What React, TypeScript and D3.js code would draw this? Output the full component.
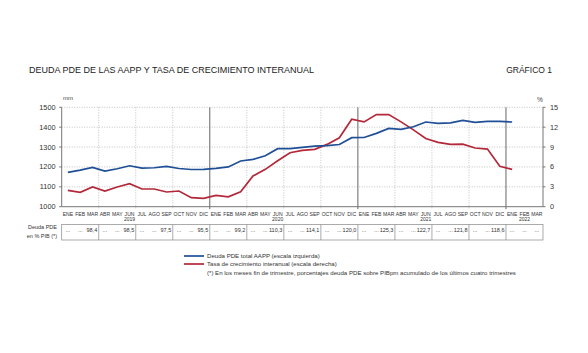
import React, { useEffect, useRef } from 'react';
import * as d3 from 'd3';

// month labels, ENE 2019 .. MAR 2022
const monthNames = ['ENE', 'FEB', 'MAR', 'ABR', 'MAY', 'JUN', 'JUL', 'AGO', 'SEP', 'OCT', 'NOV', 'DIC'];
const years = ['2019', '2020', '2021', '2022'];
const yearLabelMonth = [5, 5, 5, 1];
const nMonths = 39;

// Deuda PDE total AAPP (mm)
const debt = [
  1173, 1184, 1198, 1179, 1191, 1206, 1194, 1196, 1203, 1192, 1187, 1188,
  1193, 1200, 1230, 1238, 1256, 1292, 1292, 1298, 1305, 1307, 1313, 1347,
  1348, 1369, 1394, 1389, 1402, 1426, 1419, 1422, 1434, 1424, 1429, 1429,
  1426,
];

// Tasa de crecimiento interanual (%)
const growth = [
  2.47, 2.17, 2.97, 2.37, 2.97, 3.47, 2.67, 2.67, 2.22, 2.37, 1.36, 1.27,
  1.72, 1.5, 2.26, 4.63, 5.64, 6.94, 8.15, 8.5, 8.66, 9.4, 10.4, 13.2,
  12.8, 13.9, 13.9, 12.8, 11.6, 10.3, 9.7, 9.4, 9.45, 8.86, 8.7, 6.1,
  5.64,
];

// Deuda PDE en % PIB, one per quarter
const ratioPIB = ['98,4', '98,5', '97,5', '95,5', '99,2', '110,3', '114,1', '120,0', '125,3', '122,7', '121,8', '118,6', ''];

const leftTicks = [1000, 1100, 1200, 1300, 1400, 1500];
const rightTicks = [0, 3, 6, 9, 12, 15];

const BLUE = '#1f4f96';
const RED = '#b3283a';
const FONT = '"Liberation Sans", Arial, sans-serif';

const Chart = () => {
  const ref = useRef<SVGSVGElement>(null);

  useEffect(() => {
    const svg = d3.select(ref.current);
    svg.selectAll('*').remove();

    const left = 61.7, right = 543, top = 107.3, bottom = 206.7;

    const x = d3.scaleBand<number>().domain(d3.range(nMonths)).range([left, right]).padding(0);
    const cx = (i: number) => (x(i) as number) + x.bandwidth() / 2;
    const edge = (i: number) => left + i * x.bandwidth();
    const yL = d3.scaleLinear().domain([1000, 1500]).range([bottom, top]);
    const yR = d3.scaleLinear().domain([0, 15]).range([bottom, top]);

    // titles
    svg.append('text').attr('x', 29).attr('y', 73).attr('font-size', 9).attr('fill', '#222')
      .attr('font-family', FONT).text('DEUDA PDE DE LAS AAPP Y TASA DE CRECIMIENTO INTERANUAL');
    svg.append('text').attr('x', 552).attr('y', 73).attr('font-size', 8.5).attr('fill', '#222')
      .attr('text-anchor', 'end').attr('font-family', FONT).text('GRÁFICO 1');

    // grid
    const g = svg.append('g');
    leftTicks.slice(1).forEach(t => {
      g.append('line').attr('x1', left).attr('x2', right).attr('y1', yL(t)).attr('y2', yL(t))
        .attr('stroke', '#aaa').attr('stroke-width', 0.7).attr('stroke-dasharray', '1,1.5');
    });
    for (let i = 3; i < nMonths; i += 3) {
      const isYear = i % 12 === 0;
      g.append('line').attr('x1', edge(i)).attr('x2', edge(i)).attr('y1', top).attr('y2', bottom + 2.5)
        .attr('stroke', isYear ? '#666' : '#aaa').attr('stroke-width', isYear ? 1 : 0.7)
        .attr('stroke-dasharray', isYear ? null : '1,1.5');
    }

    // axes frame
    g.append('line').attr('x1', left).attr('x2', left).attr('y1', top).attr('y2', bottom).attr('stroke', '#777');
    g.append('line').attr('x1', right).attr('x2', right).attr('y1', top).attr('y2', bottom).attr('stroke', '#777');
    g.append('line').attr('x1', left).attr('x2', right).attr('y1', bottom).attr('y2', bottom).attr('stroke', '#777');

    leftTicks.forEach(t => {
      g.append('line').attr('x1', left - 2.5).attr('x2', left).attr('y1', yL(t)).attr('y2', yL(t)).attr('stroke', '#777');
      g.append('text').attr('x', 55.5).attr('y', yL(t)).attr('dy', '0.35em').attr('text-anchor', 'end')
        .attr('font-size', 7.3).attr('font-family', FONT).attr('fill', '#333').text(t);
    });
    rightTicks.forEach(t => {
      g.append('line').attr('x1', right).attr('x2', right + 2.5).attr('y1', yR(t)).attr('y2', yR(t)).attr('stroke', '#777');
      g.append('text').attr('x', 550).attr('y', yR(t)).attr('dy', '0.35em')
        .attr('font-size', 7.3).attr('font-family', FONT).attr('fill', '#333').text(t);
    });
    g.append('text').attr('x', 63).attr('y', 99.5).attr('font-size', 6).attr('font-family', FONT).attr('fill', '#444').text('mm');
    g.append('text').attr('x', 537).attr('y', 102).attr('font-size', 6.5).attr('font-family', FONT).attr('fill', '#444').text('%');

    // month and year labels
    d3.range(nMonths).forEach(i => {
      g.append('text').attr('x', cx(i)).attr('y', 215.5).attr('text-anchor', 'middle')
        .attr('font-size', 5.1).attr('font-family', FONT).attr('fill', '#333').text(monthNames[i % 12]);
    });
    years.forEach((yr, k) => {
      g.append('text').attr('x', cx(k * 12 + yearLabelMonth[k])).attr('y', 221.3).attr('text-anchor', 'middle')
        .attr('font-size', 5).attr('font-family', FONT).attr('fill', '#333').text(yr);
    });

    // lines
    const lineL = d3.line<number>().x((d, i) => cx(i)).y(d => yL(d));
    const lineR = d3.line<number>().x((d, i) => cx(i)).y(d => yR(d));
    svg.append('path').datum(growth).attr('fill', 'none').attr('stroke', RED).attr('stroke-width', 1.7).attr('d', lineR);
    svg.append('path').datum(debt).attr('fill', 'none').attr('stroke', BLUE).attr('stroke-width', 1.7).attr('d', lineL);

    // table
    const tTop = 224.5, tBot = 240;
    const t = svg.append('g');
    t.append('rect').attr('x', left).attr('y', tTop).attr('width', right - left).attr('height', tBot - tTop)
      .attr('fill', 'none').attr('stroke', '#888').attr('stroke-width', 0.7);
    ratioPIB.forEach((v, q) => {
      if (q > 0) {
        t.append('line').attr('x1', edge(q * 3)).attr('x2', edge(q * 3)).attr('y1', tTop).attr('y2', tBot)
          .attr('stroke', '#888').attr('stroke-width', 0.7);
      }
      const dots = v ? [0, 1] : [0, 1, 2];
      dots.forEach(m => {
        t.append('text').attr('x', cx(q * 3 + m)).attr('y', 232).attr('text-anchor', 'middle')
          .attr('font-size', 5.5).attr('font-family', FONT).attr('fill', '#333').text('...');
      });
      if (v) {
        t.append('text').attr('x', edge(q * 3 + 3) - 1.5).attr('y', 232).attr('text-anchor', 'end')
          .attr('font-size', 5.5).attr('font-family', FONT).attr('fill', '#333').text(v);
      }
    });
    t.append('text').attr('x', 57).attr('y', 229).attr('text-anchor', 'end').attr('font-size', 5.5)
      .attr('font-family', FONT).attr('fill', '#333').text('Deuda PDE');
    t.append('text').attr('x', 57).attr('y', 237.5).attr('text-anchor', 'end').attr('font-size', 5.5)
      .attr('font-family', FONT).attr('fill', '#333').text('en % PIB (*)');

    // legend
    const lg = svg.append('g').attr('font-family', FONT).attr('font-size', 6.1).attr('fill', '#333');
    lg.append('line').attr('x1', 184).attr('x2', 204).attr('y1', 256).attr('y2', 256).attr('stroke', BLUE).attr('stroke-width', 1.7);
    lg.append('text').attr('x', 207).attr('y', 258.2).text('Deuda PDE total AAPP (escala izquierda)');
    lg.append('line').attr('x1', 184).attr('x2', 204).attr('y1', 264).attr('y2', 264).attr('stroke', RED).attr('stroke-width', 1.7);
    lg.append('text').attr('x', 207).attr('y', 266.2).text('Tasa de crecimiento interanual (escala derecha)');
    lg.append('text').attr('x', 207).attr('y', 275)
      .text('(*) En los meses fin de trimestre, porcentajes deuda PDE sobre PIBpm acumulado de los últimos cuatro trimestres');
  }, []);

  return <svg ref={ref} width={588} height={353} style={{ position: 'absolute', left: 0, top: 0, background: '#fff' }} />;
};

export default function App() {
  return <Chart />;
}
